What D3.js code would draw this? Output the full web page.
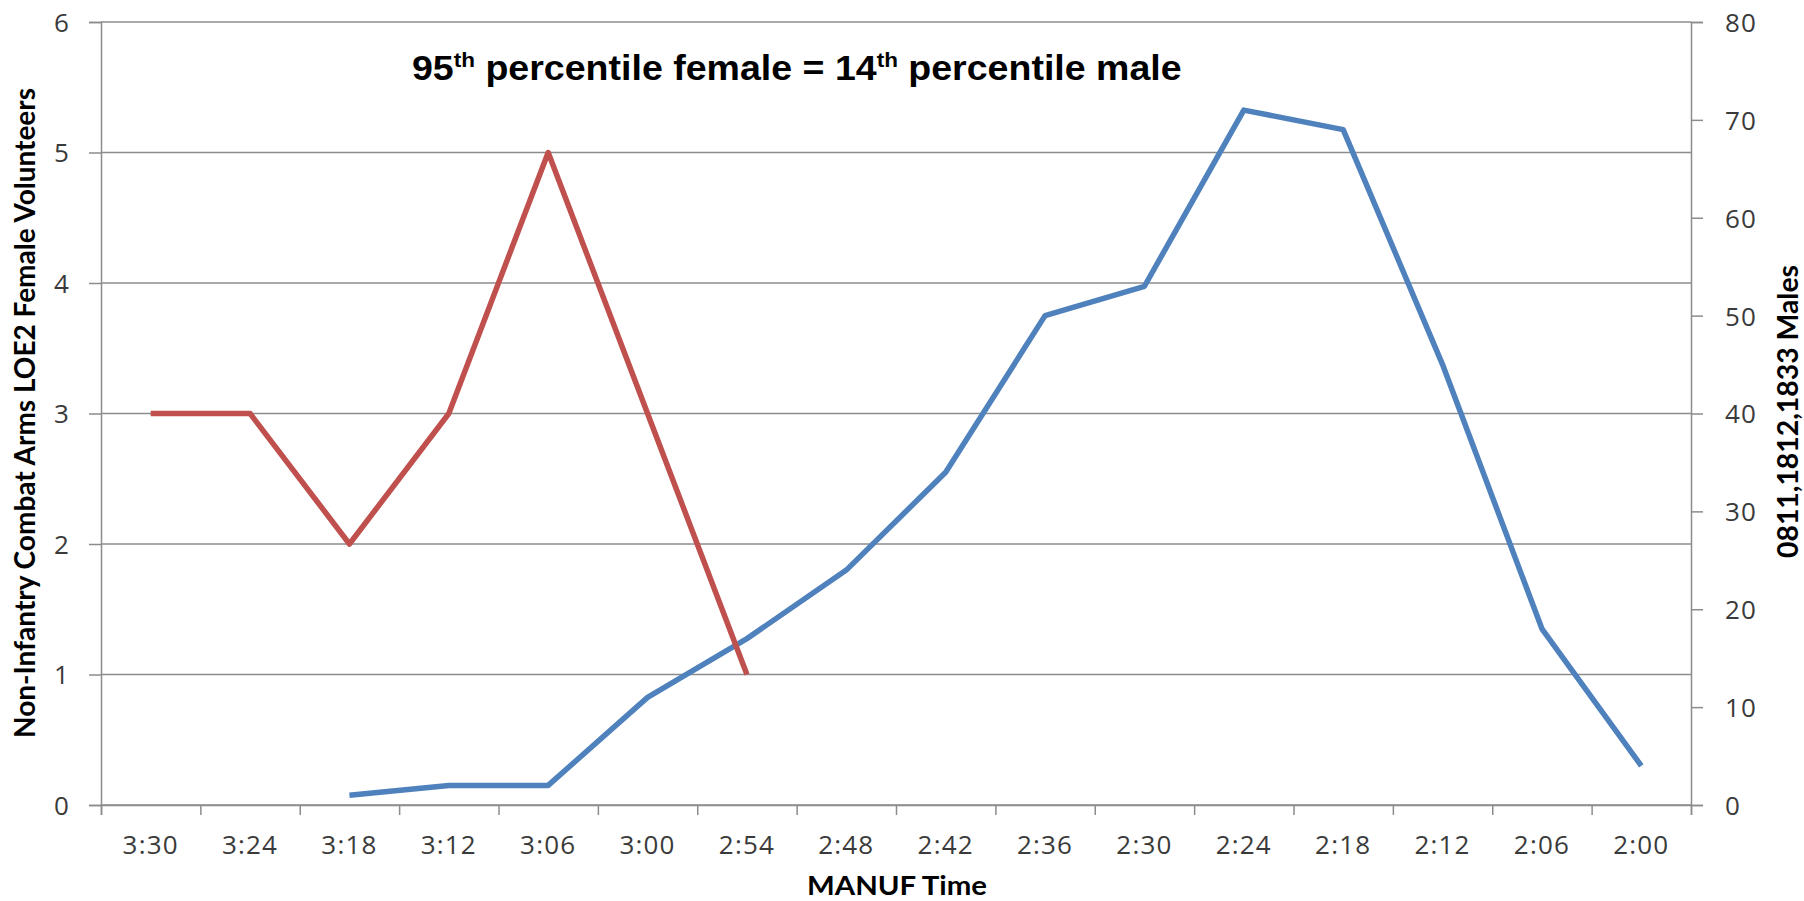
<!DOCTYPE html>
<html>
<head>
<meta charset="utf-8">
<script src="https://cdn.jsdelivr.net/npm/d3@7/dist/d3.min.js"></script>
<style>
  html, body { margin: 0; padding: 0; background: #fff; }
  svg { display: block; }
</style>
</head>
<body>
<svg id="chart" width="1804" height="901"></svg>
<script>
// MANUF time buckets, slowest to fastest
const categories = ["3:30","3:24","3:18","3:12","3:06","3:00","2:54","2:48","2:42","2:36","2:30","2:24","2:18","2:12","2:06","2:00"];
// Female volunteers per bucket (left axis)
const femaleCounts = [3, 3, 2, 3, 5, 3, 1, null, null, null, null, null, null, null, null, null];
// Male Marines (0811, 1812, 1833) per bucket (right axis)
const maleCounts = [null, null, 1, 2, 2, 11, 17, 24, 34, 50, 53, 71, 69, 45, 18, 4];
const leftTicks = [0, 1, 2, 3, 4, 5, 6];
const rightTicks = [0, 10, 20, 30, 40, 50, 60, 70, 80];

const svg = d3.select("#chart");
const plot = { left: 101, right: 1691, top: 22, bottom: 805 };
const gridColor = "#8c8c8c";
const labelColor = "#3a3a3a";
const tickFont = "'Open Sans', 'DejaVu Sans', sans-serif";
const titleFont = "Lato, 'Open Sans', sans-serif";

const x = d3.scaleBand().domain(categories).range([plot.left, plot.right]).paddingInner(0).paddingOuter(0);
const xEdge = d3.scaleLinear().domain([0, categories.length]).range([plot.left, plot.right]);
const yL = d3.scaleLinear().domain([0, 6]).range([plot.bottom, plot.top]);
const yR = d3.scaleLinear().domain([0, 80]).range([plot.bottom, plot.top]);
const cx = d => x(d) + x.bandwidth() / 2;

// horizontal gridlines on the left-axis ticks
svg.append("g").selectAll("line").data(leftTicks).join("line")
  .attr("x1", plot.left).attr("x2", plot.right)
  .attr("y1", d => yL(d)).attr("y2", d => yL(d))
  .attr("stroke", gridColor).attr("stroke-width", 1.5);

function styleAxis(g) {
  g.select(".domain").attr("stroke", gridColor).attr("stroke-width", 1.5);
  g.selectAll(".tick line").attr("stroke", gridColor).attr("stroke-width", 1.5);
  g.selectAll("text").attr("fill", labelColor).attr("font-family", tickFont)
    .attr("font-size", 26).attr("letter-spacing", 1.2);
}

// left axis
svg.append("g").attr("transform", `translate(${plot.left},0)`)
  .call(d3.axisLeft(yL).tickValues(leftTicks).tickSize(12).tickPadding(19).tickFormat(d3.format("d")))
  .call(styleAxis)
  .call(g => g.selectAll("text").attr("dy", "0.36em"));

// right axis
svg.append("g").attr("transform", `translate(${plot.right},0)`)
  .call(d3.axisRight(yR).tickValues(rightTicks).tickSize(12).tickPadding(22).tickFormat(d3.format("d")))
  .call(styleAxis)
  .call(g => g.selectAll("text").attr("dy", "0.36em"));

// bottom axis: tick marks on category boundaries
svg.append("g").attr("transform", `translate(0,${plot.bottom})`)
  .call(d3.axisBottom(xEdge).tickValues(d3.range(categories.length + 1)).tickSize(10).tickFormat(""))
  .call(styleAxis);

// bottom axis: labels centred in each category
svg.append("g").attr("transform", `translate(0,${plot.bottom})`)
  .call(d3.axisBottom(x).tickSize(0).tickPadding(0))
  .call(styleAxis)
  .call(g => g.select(".domain").remove())
  .call(g => g.selectAll("text").attr("y", 49).attr("dy", 0));

// series lines
const femaleLine = d3.line()
  .defined(d => d.v != null)
  .x(d => cx(d.c)).y(d => yL(d.v));
const maleLine = d3.line()
  .defined(d => d.v != null)
  .x(d => cx(d.c)).y(d => yR(d.v));

svg.append("path")
  .datum(categories.map((c, i) => ({ c, v: maleCounts[i] })))
  .attr("d", maleLine)
  .attr("fill", "none").attr("stroke", "#4f81bd").attr("stroke-width", 5.5)
  .attr("stroke-linejoin", "round").attr("stroke-linecap", "butt");

svg.append("path")
  .datum(categories.map((c, i) => ({ c, v: femaleCounts[i] })))
  .attr("d", femaleLine)
  .attr("fill", "none").attr("stroke", "#c0504d").attr("stroke-width", 5.5)
  .attr("stroke-linejoin", "round").attr("stroke-linecap", "butt");

// axis titles
svg.append("text")
  .attr("transform", "translate(35,413) rotate(-90)")
  .attr("text-anchor", "middle")
  .attr("font-family", titleFont).attr("font-weight", "bold").attr("font-size", 28)
  .attr("textLength", 650).attr("lengthAdjust", "spacingAndGlyphs")
  .attr("fill", "#000")
  .text("Non-Infantry Combat Arms LOE2 Female Volunteers");

svg.append("text")
  .attr("transform", "translate(1798,411.5) rotate(-90)")
  .attr("text-anchor", "middle")
  .attr("font-family", titleFont).attr("font-weight", "bold").attr("font-size", 28)
  .attr("textLength", 293).attr("lengthAdjust", "spacingAndGlyphs")
  .attr("fill", "#000")
  .text("0811,1812,1833 Males");

svg.append("text")
  .attr("x", 897).attr("y", 895)
  .attr("text-anchor", "middle")
  .attr("font-family", titleFont).attr("font-weight", "bold").attr("font-size", 26)
  .attr("textLength", 180).attr("lengthAdjust", "spacingAndGlyphs")
  .attr("fill", "#000")
  .text("MANUF Time");

// headline annotation with superscript ordinals
const head = svg.append("text")
  .attr("font-family", "'Liberation Sans', Arial, sans-serif")
  .attr("font-weight", "bold").attr("font-size", 35).attr("fill", "#000");
const parts = [["95", false], ["th", true], [" percentile female = 14", false], ["th", true], [" percentile male", false]];
parts.forEach(([t, sup]) => {
  head.append("tspan")
    .attr("font-size", sup ? 21 : 35)
    .attr("baseline-shift", sup ? "13" : null)
    .text(t);
});
const hb = head.node().getBBox();
const targetW = 770;
const kx = targetW / hb.width;
head.attr("transform", `translate(412,80) scale(${kx},1)`);
</script>
</body>
</html>
